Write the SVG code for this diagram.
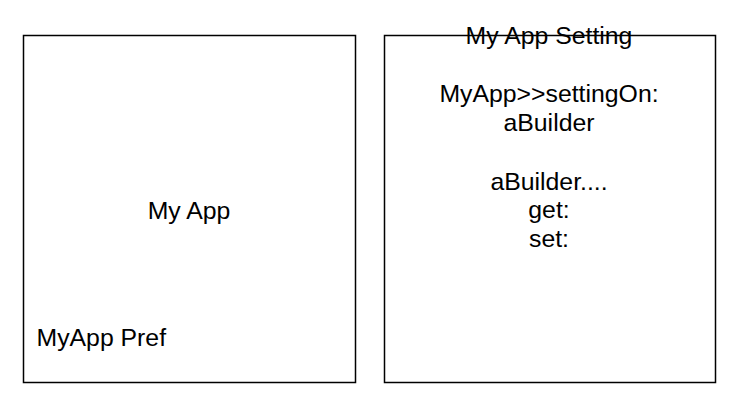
<svg xmlns="http://www.w3.org/2000/svg" width="737" height="418" viewBox="0 0 737 418">
<style>
.box{fill:#fff;stroke:#000;stroke-width:1.5}
text{font-family:"Liberation Sans",Arial,sans-serif;font-size:24.8px;fill:#000}
.c{text-anchor:middle}
</style>
<rect width="737" height="418" fill="#fff"/>
<g id="my-app">
<rect class="box" x="23.5" y="35.5" width="332" height="347"/>
<text class="c" x="189" y="219">My App</text>
<text x="36.5" y="346">MyApp Pref</text>
</g>
<g id="my-app-setting">
<rect class="box" x="384.5" y="35.5" width="331" height="347"/>
<text class="c" x="549" y="44">My App Setting</text>
<text class="c" x="549" y="102">MyApp&gt;&gt;settingOn:</text>
<text class="c" x="549" y="131">aBuilder</text>
<text class="c" x="549" y="189.5">aBuilder....</text>
<text class="c" x="549" y="218">get:</text>
<text class="c" x="549" y="247">set:</text>
</g>
<g id="connectors"/>
</svg>
